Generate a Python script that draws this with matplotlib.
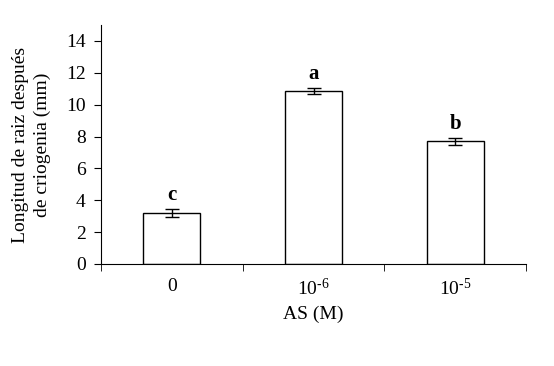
import numpy as np
import matplotlib
matplotlib.use("Agg")
import matplotlib.pyplot as plt

plt.rcParams['font.family'] = ['Liberation Serif', 'DejaVu Serif']
plt.rcParams['mathtext.fontset'] = 'custom'
plt.rcParams['mathtext.rm'] = 'Liberation Serif'
plt.rcParams['mathtext.it'] = 'Liberation Serif:italic'
plt.rcParams['mathtext.bf'] = 'Liberation Serif:bold'

# data
categorias = ["0", "10$^{\\mathrm{\u2010}6}$", "10$^{\\mathrm{\u2010}5}$"]
longitud = [3.23, 10.85, 7.69]
error = [0.25, 0.2, 0.23]
letras = ["c", "a", "b"]

fig = plt.figure(figsize=(5.54, 3.66), dpi=100)
ax = fig.add_axes([0.1823, 0.2787, 0.7672, 0.653])

x = np.arange(len(categorias))
ax.bar(x, longitud, width=0.4, color="white", edgecolor="black", linewidth=1.0,
       yerr=error, error_kw=dict(ecolor="black", elinewidth=1.0, capsize=5, capthick=1.0))

for xi, v, e, l in zip(x, longitud, error, letras):
    ax.text(xi, v + e + 0.25, l, ha="center", va="bottom", fontsize=15, fontweight="bold")

ax.set_xlim(-0.5, 2.5)
ax.set_ylim(0, 15)
ax.set_yticks(np.arange(0, 15, 2))
ax.set_xticks(x)
ax.set_xticklabels(categorias)
ax.set_xticks([-0.5, 0.5, 1.5, 2.5], minor=True)
ax.tick_params(axis="x", which="major", length=0, pad=10, labelsize=14)
ax.tick_params(axis="x", which="minor", length=5, direction="out")
ax.tick_params(axis="y", length=5, direction="out", labelsize=14, pad=6)

ax.spines["top"].set_visible(False)
ax.spines["right"].set_visible(False)

ax.set_xlabel("AS (M)", fontsize=14, labelpad=5)
ax.set_ylabel("Longitud de raiz después\nde criogenia (mm)", fontsize=14, labelpad=11,
              linespacing=1.3)

fig.savefig("out.png", dpi=100)
